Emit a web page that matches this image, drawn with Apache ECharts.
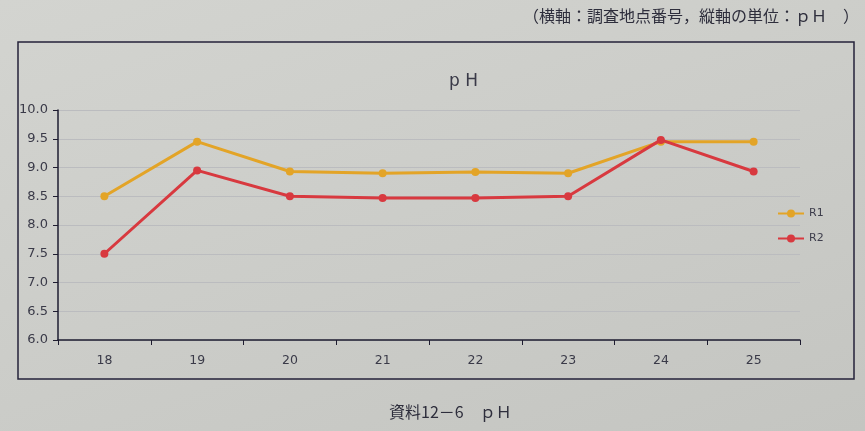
<!DOCTYPE html>
<html>
<head>
<meta charset="utf-8">
<script src="https://cdn.jsdelivr.net/npm/echarts@6/dist/echarts.min.js"></script>
<style>
  html, body { margin: 0; padding: 0; }
  body { background: linear-gradient(160deg, #d3d4d0 0%, #cbccc8 55%, #c4c5c1 100%); }
  #chart { width: 865px; height: 431px; }
</style>
</head>
<body>
<div id="chart"></div>
<script>
// Survey point numbers (horizontal axis)
const sites = ['18', '19', '20', '21', '22', '23', '24', '25'];
// pH readings per series
const r1Values = [8.5, 9.45, 8.93, 8.9, 8.92, 8.9, 9.45, 9.45];
const r2Values = [7.5, 8.95, 8.5, 8.47, 8.47, 8.5, 9.48, 8.93];
const seriesNames = ['R1', 'R2'];
const seriesColors = ['#e3a427', '#d8393f'];

const chart = echarts.init(document.getElementById('chart'), null, { renderer: 'canvas' });
const fontJP = '"Noto Sans CJK JP", "Noto Sans", sans-serif';

chart.setOption({
  backgroundColor: 'transparent',
  animation: false,
  title: {
    text: 'p H',
    left: 444,
    top: 68,
    textStyle: { fontFamily: '"DejaVu Sans", sans-serif', fontSize: 17, fontWeight: 'normal', color: '#3a3a48' }
  },
  legend: {
    orient: 'vertical',
    left: 772,
    top: 203,
    itemGap: 14,
    itemWidth: 26,
    itemHeight: 10,
    data: seriesNames,
    textStyle: { fontFamily: '"DejaVu Sans", sans-serif', fontSize: 11, color: '#3e3e4c' }
  },
  grid: { left: 58, right: 65, top: 110, bottom: 91, containLabel: false },
  xAxis: {
    type: 'category',
    data: sites,
    boundaryGap: true,
    axisLine: { lineStyle: { color: '#1e1c30', width: 1.5 } },
    axisTick: { show: true, length: 5, lineStyle: { color: '#1e1c30' } },
    axisLabel: { margin: 14, fontFamily: '"DejaVu Sans", sans-serif', fontSize: 12.5, color: '#3a3a48' },
    splitLine: { show: false }
  },
  yAxis: {
    type: 'value',
    min: 6,
    max: 10,
    interval: 0.5,
    axisLine: { show: true, lineStyle: { color: '#1e1c30', width: 1.5 } },
    axisTick: { show: true, length: 5, lineStyle: { color: '#1e1c30' } },
    axisLabel: {
      margin: 10,
      formatter: v => v.toFixed(1),
      fontFamily: '"DejaVu Sans", sans-serif', fontSize: 13, color: '#3a3a48'
    },
    splitLine: { show: true, lineStyle: { color: '#bbbcbf', width: 1 } }
  },
  series: seriesNames.map((name, i) => ({
    name,
    type: 'line',
    data: i === 0 ? r1Values : r2Values,
    symbol: 'circle',
    symbolSize: 8,
    z: i === 0 ? 2 : 3,
    lineStyle: { color: seriesColors[i], width: 3 },
    itemStyle: { color: seriesColors[i] }
  })),
  graphic: [
    {
      type: 'rect',
      shape: { x: 18, y: 42, width: 836, height: 337 },
      style: { fill: 'none', stroke: '#24223a', lineWidth: 1.5 },
      silent: true
    },
    {
      type: 'text',
      right: 6,
      top: 8,
      style: {
        text: '（横軸：調査地点番号，縦軸の単位：ｐＨ　）',
        font: '16px ' + fontJP,
        fill: '#2e2e3c'
      }
    },
    {
      type: 'text',
      left: 389,
      top: 404,
      style: {
        text: '資料12－6　ｐＨ',
        font: '16px ' + fontJP,
        fill: '#2e2e3c'
      }
    }
  ]
});
</script>
</body>
</html>
